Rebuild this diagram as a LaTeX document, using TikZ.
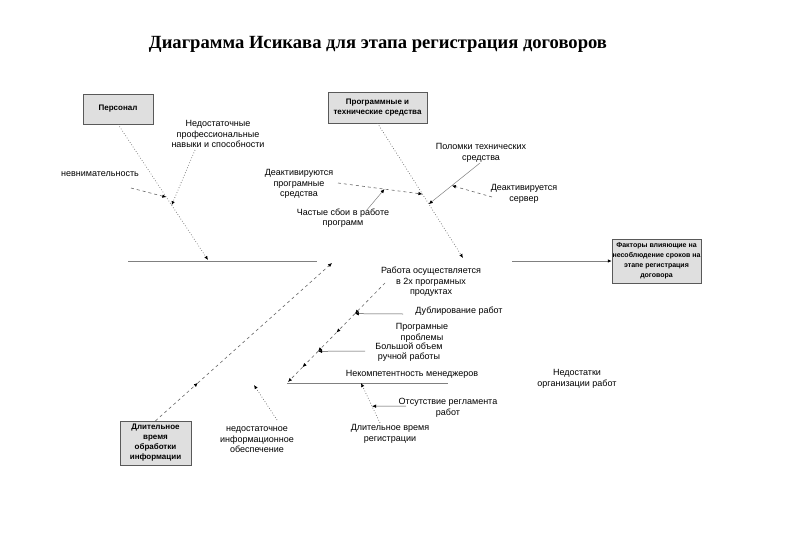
\documentclass[tikz,border=0pt]{standalone}
\usepackage{fontspec}
\setmainfont{Liberation Sans}
\newfontfamily\titlefont{Liberation Serif}
\usetikzlibrary{arrows.meta,calc}
\tikzset{
	lbl/.style={font=\fontsize{9}{10.5}\selectfont, align=center, inner sep=0pt},
	box/.style={draw=gray!70!black, fill=gray!25, font=\bfseries\fontsize{8}{10}\selectfont, align=center, inner sep=0pt},
	tip/.style={-{Latex[length=4pt,width=3.5pt,color=black]}},
	bone/.style={gray!80!black, dotted, line width=0.7pt},
	dbone/.style={gray!80!black, dash pattern=on 3pt off 3pt, line width=0.6pt},
	twig/.style={black!70, line width=0.5pt},
}
\begin{document}
\begin{tikzpicture}[x=1pt, y=-1pt]
	\useasboundingbox (0,0) rectangle (800,554); % Rand wie im Original
	
	\node[font=\titlefont\bfseries\fontsize{18.6}{20}\selectfont] (title) at (378,44) {Диаграмма Исикава для этапа регистрация договоров};
	
	% Kaesten
	\node[box, minimum width=70pt, minimum height=30pt] (pers) at (118,109) {Персонал};
	\node[box, minimum width=99pt, minimum height=31pt] (prog) at (377.5,107.5) {Программные и\\технические средства};
	\node[box, minimum width=89pt, minimum height=44pt, font=\bfseries\fontsize{7}{10}\selectfont] (eff) at (656.5,261) {Факторы влияющие на\\несоблюдение сроков на\\этапе регистрация\\договора};
	\node[box, minimum width=71pt, minimum height=44pt] (long) at (155.5,443) {Длительное\\время\\обработки\\информации};
	
	% Texte
	\node[lbl] (skill) at (218,134) {Недостаточные\\профессиональные\\навыки и способности};
	\node[lbl] (care) at (100,174) {невнимательность};
	\node[lbl] (deact) at (299,184) {Деактивируются\\програмные\\средства};
	\node[lbl] (fail) at (343,218) {Частые сбои в работе\\программ};
	\node[lbl] (brk) at (481,153) {Поломки технических\\средства};
	\node[lbl] (serv) at (524,194) {Деактивируется\\сервер};
	\node[lbl] (two) at (431,282) {Работа осуществляется\\в 2х програмных\\продуктах};
	\node[lbl] (dup) at (459,311) {Дублирование работ};
	\node[lbl] (pprob) at (422,333) {Програмные\\проблемы};
	\node[lbl] (manual) at (409,352) {Большой объем\\ручной работы};
	\node[lbl] (mgr) at (412,374) {Некомпетентность менеджеров};
	\node[lbl] (reg) at (448,408) {Отсутствие регламента\\работ};
	\node[lbl] (regt) at (390,434) {Длительное время\\регистрации};
	\node[lbl] (info) at (257,440) {недостаточное\\информационное\\обеспечение};
	\node[lbl] (org) at (577,379) {Недостатки\\организации работ};
	
	% Hauptlinie
	\coordinate (s1) at (128,261);
	\coordinate (s2) at (317,261);
	\coordinate (s3) at (512,261);
	\draw[gray, line width=0.8pt] (s1) -- (s2);
	\draw[gray, line width=0.8pt, tip] (s3) -- (eff.west);
	
	% Personal
	\coordinate (p1) at (208,260);
	\coordinate (c0) at (131,188);
	\coordinate (k0) at (195,150);
	\draw[bone, tip] (pers.south) -- (p1);
	\draw[dbone, tip] (c0) -- ($(pers.south)!0.537!(p1)$);
	\draw[bone, tip] (k0) -- ($(pers.south)!0.596!(p1)$);
	
	% Programme und Technik
	\coordinate (g1) at (463,258);
	\coordinate (d0) at (338,183);
	\coordinate (d1) at ($(prog.south)!0.526!(g1)$);
	\coordinate (f0) at (366,211);
	\coordinate (b0) at (480,163);
	\coordinate (b1) at ($(prog.south)!0.6!(g1)$);
	\coordinate (v0) at (492,197);
	\draw[bone, tip] (prog.south) -- (g1);
	\draw[dbone, tip] (d0) -- (d1);
	\draw[gray, line width=0.5pt, tip] (f0) -- ($(d0)!0.55!(d1)$);
	\draw[gray, line width=0.5pt, tip] (b0) -- (b1);
	\draw[dbone, tip] (v0) -- ($(b0)!0.55!(b1)$);
	
	% Bearbeitungszeit
	\coordinate (l1) at (332,263);
	\coordinate (lm) at ($(long.north)!0.24!(l1)$);
	\draw[dbone, tip] (long.north) -- (lm);
	\draw[dbone, tip] (lm) -- (l1);
	\coordinate (i0) at (277,420);
	\coordinate (i1) at (254,385);
	\draw[bone, tip] (i0) -- (i1);
	
	% Organisation
	\coordinate (w0) at (385,283);
	\coordinate (w5) at (288,382);
	\foreach \a/\b in {0/0.31, 0.31/0.5, 0.5/0.69, 0.69/0.85, 0.85/1}
		\draw[dbone, tip] ($(w0)!\a!(w5)$) -- ($(w0)!\b!(w5)$);
	\coordinate (u0) at (403,314);
	\coordinate (m0) at (365,351);
	\draw[twig, tip] (u0) -- ($(w0)!0.31!(w5)$);
	\draw[twig, tip] (m0) -- ($(w0)!0.69!(w5)$);
	
	\coordinate (h0) at (287,383);
	\coordinate (h1) at (448,383);
	\draw[gray, line width=0.8pt] (h0) -- (h1);
	\coordinate (r0) at (380,423);
	\coordinate (r1) at (361,383);
	\coordinate (e0) at (406,406);
	\draw[bone, tip] (r0) -- (r1);
	\draw[twig, tip] (e0) -- ($(r0)!0.42!(r1)$);
\end{tikzpicture}
\end{document}
